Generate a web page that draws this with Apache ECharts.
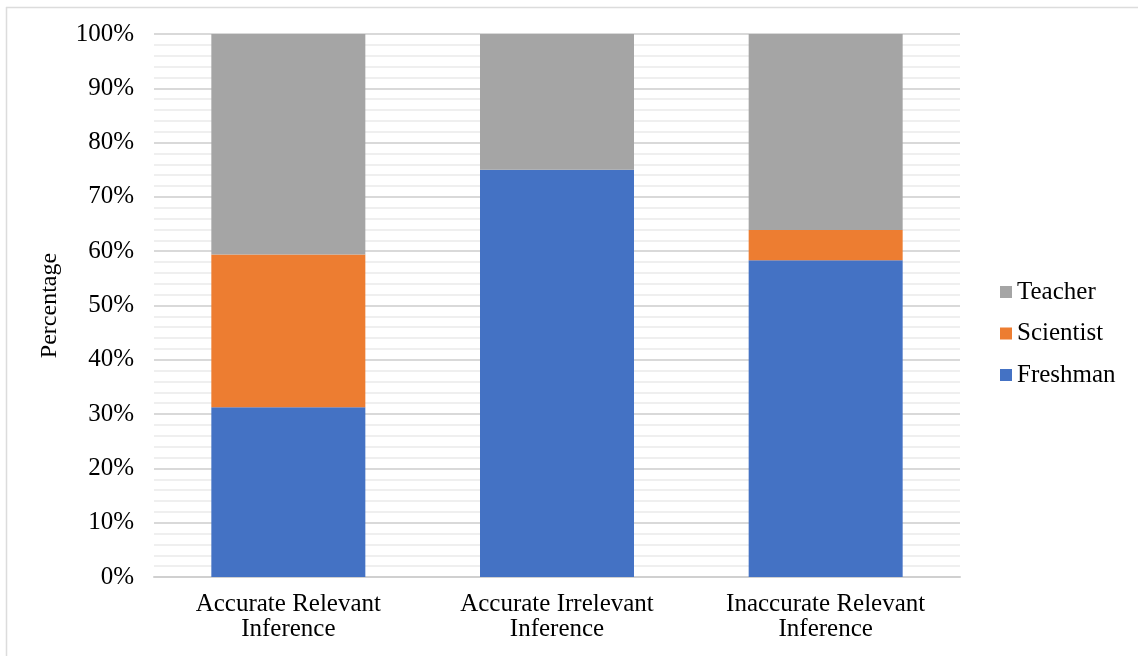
<!DOCTYPE html>
<html>
<head>
<meta charset="utf-8">
<script src="https://cdn.jsdelivr.net/npm/echarts@6/dist/echarts.min.js"></script>
<style>
  html, body { margin: 0; padding: 0; background: #fff; }
  #chart { width: 1138px; height: 656px; }
</style>
</head>
<body>
<div id="chart"></div>
<script>
// Share of each group per inference type (percent)
const categories = ['Accurate Relevant\nInference', 'Accurate Irrelevant\nInference', 'Inaccurate Relevant\nInference'];
const freshman = [31.25, 75, 58.33];
const scientist = [28.13, 0, 5.56];
const teacher = [40.62, 25, 36.11];
const yTicks = [0, 10, 20, 30, 40, 50, 60, 70, 80, 90, 100];

const serif = '"Liberation Serif", "Times New Roman", serif';

const chart = echarts.init(document.getElementById('chart'));
chart.setOption({
  animation: false,
  textStyle: { fontFamily: serif },
  grid: { left: 154, right: 178, top: 34, bottom: 79 },
  legend: {
    orient: 'vertical',
    left: 995,
    top: 274,
    itemWidth: 12,
    itemHeight: 12,
    itemGap: 15.5,
    icon: 'rect',
    data: ['Teacher', 'Scientist', 'Freshman'],
    textStyle: { fontFamily: serif, fontSize: 25, lineHeight: 26, color: '#000', padding: [0, 0, 0, 0] }
  },
  xAxis: {
    type: 'category',
    data: categories,
    axisTick: { show: false },
    axisLine: { lineStyle: { color: '#d0d0d0', width: 2 } },
    axisLabel: { fontFamily: serif, fontSize: 25, color: '#000', lineHeight: 25, margin: 15 }
  },
  yAxis: {
    type: 'value',
    min: yTicks[0],
    max: yTicks[yTicks.length - 1],
    interval: 10,
    name: 'Percentage',
    nameLocation: 'middle',
    nameGap: 92,
    nameRotate: 90,
    nameTextStyle: { fontFamily: serif, fontSize: 24, color: '#000' },
    axisLine: { show: false },
    axisTick: { show: false },
    axisLabel: { formatter: '{value}%', fontFamily: serif, fontSize: 25, color: '#000', margin: 20 },
    splitLine: { lineStyle: { color: '#d9d9d9', width: 2 } },
    minorTick: { show: false, splitNumber: 5 },
    minorSplitLine: { show: true, lineStyle: { color: '#efefef', width: 2 } }
  },
  series: [
    { name: 'Freshman', type: 'bar', stack: 'total', data: freshman, barWidth: 154,
      itemStyle: { color: '#4472C4' } },
    { name: 'Scientist', type: 'bar', stack: 'total', data: scientist, barWidth: 154,
      itemStyle: { color: '#ED7D31' } },
    { name: 'Teacher', type: 'bar', stack: 'total', data: teacher, barWidth: 154,
      itemStyle: { color: '#A5A5A5' } }
  ],
  graphic: [
    { type: 'line', shape: { x1: 6, y1: 7.5, x2: 1138, y2: 7.5 }, style: { stroke: '#dcdcdc', lineWidth: 1.5 } },
    { type: 'line', shape: { x1: 6.5, y1: 7, x2: 6.5, y2: 656 }, style: { stroke: '#dcdcdc', lineWidth: 1.5 } }
  ]
});
</script>
</body>
</html>
